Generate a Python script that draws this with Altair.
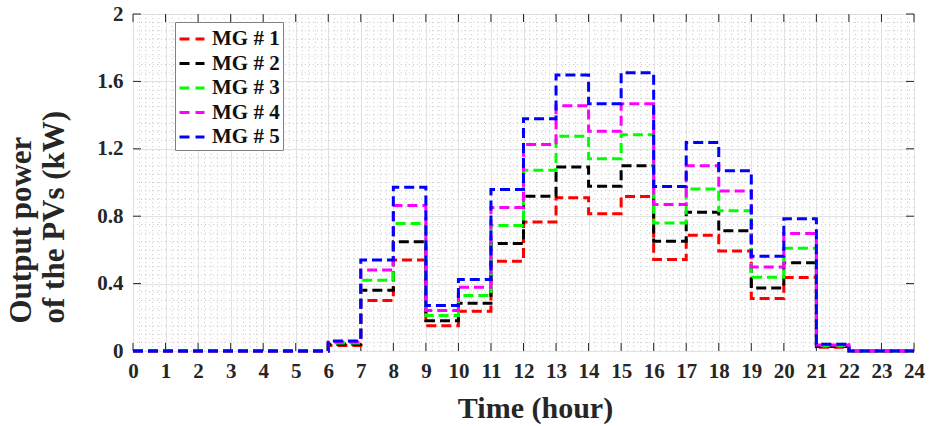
import altair as alt
import pandas as pd

# Hourly PV output (kW) of each microgrid, one value per hour 0..23
hours = list(range(25))
series_names = ["MG # 1", "MG # 2", "MG # 3", "MG # 4", "MG # 5"]
series_colors = ["#ff0000", "#000000", "#00ff00", "#ff00ff", "#0000ff"]

mg1 = [0, 0, 0, 0, 0, 0, 0.033, 0.300, 0.540, 0.150, 0.236, 0.532,
       0.766, 0.910, 0.815, 0.917, 0.543, 0.687, 0.594, 0.312, 0.436, 0.022, 0, 0]
mg2 = [0, 0, 0, 0, 0, 0, 0.040, 0.360, 0.648, 0.180, 0.283, 0.638,
       0.919, 1.092, 0.978, 1.100, 0.652, 0.824, 0.713, 0.374, 0.523, 0.026, 0, 0]
mg3 = [0, 0, 0, 0, 0, 0, 0.047, 0.420, 0.756, 0.210, 0.330, 0.745,
       1.072, 1.274, 1.141, 1.284, 0.760, 0.962, 0.832, 0.437, 0.610, 0.031, 0, 0]
mg4 = [0, 0, 0, 0, 0, 0, 0.053, 0.480, 0.864, 0.240, 0.378, 0.851,
       1.226, 1.456, 1.304, 1.467, 0.869, 1.099, 0.950, 0.499, 0.698, 0.035, 0, 0]
mg5 = [0, 0, 0, 0, 0, 0, 0.060, 0.540, 0.972, 0.270, 0.425, 0.958,
       1.379, 1.638, 1.467, 1.651, 0.977, 1.237, 1.069, 0.562, 0.785, 0.040, 0, 0]

x_ticks = list(range(25))
y_ticks = [0, 0.4, 0.8, 1.2, 1.6, 2]

rows = []
for name, vals in zip(series_names, [mg1, mg2, mg3, mg4, mg5]):
    padded = vals + [vals[-1]]  # close the last step at hour 24
    for h, v in zip(hours, padded):
        rows.append({"hour": h, "power": v, "series": name})
df = pd.DataFrame(rows)

W, H = 781, 337
TICK = 8
FONT = "Liberation Serif"
TEXT = "#262626"

x_scale = alt.Scale(domain=[0, 24], nice=False, zero=False)
y_scale = alt.Scale(domain=[0, 2], nice=False)

x_axis = alt.Axis(values=x_ticks, title="Time (hour)", format="d",
                  labelFontSize=21, labelPadding=9, labelFlush=False,
                  titleFontSize=30, titlePadding=12,
                  titleAnchor="start", titleAlign="center", titleX=402)
y_axis = alt.Axis(values=y_ticks, title=["Output power", "of the PVs (kW)"],
                  format=".1~f", labelFontSize=21, labelPadding=10,
                  labelFlush=False, titleFontSize=31, titleLineHeight=33,
                  titleAlign="left", titleAnchor="start",
                  titleBaseline="top", titleX=-127, titleY=309)

x_enc = alt.X("hour:Q", scale=x_scale, axis=x_axis)
y_enc = alt.Y("power:Q", scale=y_scale, axis=y_axis)

# Dotted minor grid
x_minor = [round(h + k * 0.2, 1) for h in range(24) for k in range(1, 5)]
y_minor = [round(i * 0.05, 2) for i in range(41) if i % 8 != 0]

minor_style = dict(color="#c9c9c9", strokeWidth=1, strokeDash=[1, 3])
minor_x = alt.Chart(pd.DataFrame({"hour": x_minor})).mark_rule(
    **minor_style).encode(x=x_enc)
minor_y = alt.Chart(pd.DataFrame({"power": y_minor})).mark_rule(
    **minor_style).encode(y=y_enc)

# Inward tick marks on all four sides of the box
xt = pd.DataFrame({"hour": x_ticks})
yt = pd.DataFrame({"power": y_ticks})
tick_style = dict(color=TEXT, strokeWidth=1)
ticks_bottom = alt.Chart(xt).mark_rule(**tick_style).encode(
    x=x_enc, y=alt.value(H), y2=alt.value(H - TICK))
ticks_top = alt.Chart(xt).mark_rule(**tick_style).encode(
    x=x_enc, y=alt.value(0), y2=alt.value(TICK))
ticks_left = alt.Chart(yt).mark_rule(**tick_style).encode(
    y=y_enc, x=alt.value(0), x2=alt.value(TICK))
ticks_right = alt.Chart(yt).mark_rule(**tick_style).encode(
    y=y_enc, x=alt.value(W), x2=alt.value(W - TICK))

lines = alt.Chart(df).mark_line(
    interpolate="step-after", strokeWidth=3, strokeDash=[10, 5], clip=False
).encode(
    x=x_enc,
    y=y_enc,
    color=alt.Color(
        "series:N",
        scale=alt.Scale(domain=series_names, range=series_colors),
        legend=alt.Legend(
            orient="none", legendX=42, legendY=8, title=None,
            symbolType="stroke", symbolStrokeWidth=3, symbolDash=[10, 6],
            symbolSize=625, rowPadding=0.5, padding=3, labelOffset=6,
            labelFont=FONT, labelFontSize=21, labelFontWeight="bold",
            labelColor="#111111", fillColor="white", strokeColor="#808080",
        ),
    ),
    order=alt.Order("series:N"),
)

chart = alt.layer(
    minor_x, minor_y, ticks_bottom, ticks_top, ticks_left, ticks_right, lines
).properties(
    width=W, height=H,
    autosize=alt.AutoSizeParams(type="none"),
    padding={"left": 133, "top": 14, "right": 16, "bottom": 75},
    background="white",
).configure_view(
    stroke=TEXT, strokeWidth=1
).configure_axis(
    domain=False, ticks=False, grid=True, gridColor="#e2e2e2", gridWidth=1,
    labelFont=FONT, labelFontWeight="bold", labelColor=TEXT,
    titleFont=FONT, titleFontWeight="bold", titleColor=TEXT,
)

chart.save("out.html", embed_options={"renderer": "svg", "actions": False})
